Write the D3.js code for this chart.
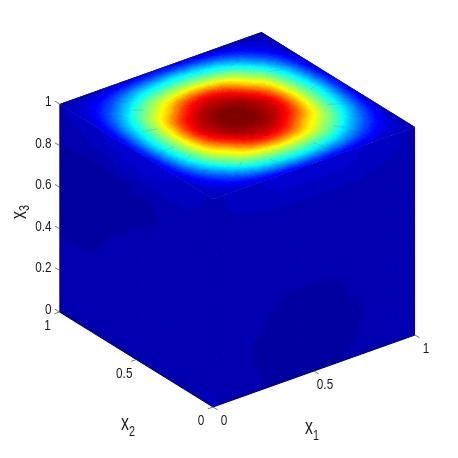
<!DOCTYPE html>
<html>
<head>
<meta charset="utf-8">
<script src="https://cdn.jsdelivr.net/npm/d3@7"></script>
<style>
  html,body{margin:0;padding:0;background:#fff}
  text{font-family:"Liberation Sans",Arial,sans-serif;fill:#1a1a1a}
</style>
</head>
<body>
<div id="chart"></div>
<script>
// Values (colour index 0..1 of the jet map)
const x1Ticks = [0, 0.5, 1]
const x2Ticks = [0, 0.5, 1]
const x3Ticks = [0, 0.2, 0.4, 0.6, 0.8, 1]
const jetStops = [0, 0.125, 0.375, 0.625, 0.875, 1]
const jetColors = ["#000080", "#0000ff", "#00ffff", "#ffff00", "#ff0000", "#800000"]

// top face x3=1, rows x2=0..1, columns x1=0..1, step 0.1
const topValues = [
  [.045,.055,.07,.09,.11,.12,.11,.09,.07,.055,.045],
  [.055,.11,.20,.29,.34,.36,.34,.29,.20,.11,.055],
  [.07,.20,.36,.50,.57,.60,.57,.50,.36,.20,.07],
  [.09,.29,.50,.645,.81,.87,.81,.645,.50,.29,.09],
  [.11,.34,.57,.81,.94,.97,.94,.81,.57,.34,.11],
  [.12,.36,.60,.87,.97,1.0,.97,.87,.60,.36,.12],
  [.11,.34,.57,.81,.94,.97,.94,.81,.57,.34,.11],
  [.09,.29,.50,.645,.81,.87,.81,.645,.50,.29,.09],
  [.07,.20,.36,.50,.57,.60,.57,.50,.36,.20,.07],
  [.055,.11,.20,.29,.34,.36,.34,.29,.20,.11,.055],
  [.045,.055,.07,.09,.11,.12,.11,.09,.07,.055,.045]
]
// face x2=0, rows x3=0..1, columns x1=0..1, step 0.2
const rightValues = [
  [.048,.034,.029,.030,.036,.042],
  [.044,.031,.027,.028,.033,.040],
  [.042,.036,.030,.031,.037,.040],
  [.040,.040,.040,.040,.040,.040],
  [.040,.040,.040,.040,.040,.040],
  [.044,.060,.075,.075,.060,.044]
]
// face x1=0, rows x3=0..1, columns x2=0..1, step 0.2
const leftValues = [
  [.048,.046,.044,.042,.042,.042],
  [.044,.042,.040,.040,.040,.040],
  [.040,.040,.040,.038,.031,.030],
  [.040,.040,.036,.030,.028,.028],
  [.040,.040,.032,.029,.028,.029],
  [.044,.060,.075,.075,.060,.044]
]
// faint mesh streaks on the top face: x1 start, x2 start, x1 end, x2 end
const streaks = [
  [.18,.80,.23,.76],[.12,.62,.18,.60],[.30,.92,.36,.90],[.62,.93,.60,.86],
  [.78,.88,.72,.84],[.88,.70,.82,.72],[.92,.52,.86,.50],[.90,.32,.84,.36],
  [.80,.14,.75,.20],[.62,.07,.60,.14],[.40,.06,.38,.13],[.22,.14,.28,.18],
  [.10,.32,.16,.35],[.08,.44,.14,.44]
]

var width = 458
var height = 458
var originX = 213
var originY = 407

// each data axis moves the screen point by its own scale
const x1X = d3.scaleLinear().domain([0,1]).range([0,202])
const x1Y = d3.scaleLinear().domain([0,1]).range([0,-72])
const x2X = d3.scaleLinear().domain([0,1]).range([0,-153.5])
const x2Y = d3.scaleLinear().domain([0,1]).range([0,-95])
const x3Y = d3.scaleLinear().domain([0,1]).range([0,-208])

const project = (a,b,c)=>[originX+x1X(a)+x2X(b), originY+x1Y(a)+x2Y(b)+x3Y(c)]

const jet = d3.scaleLinear().domain(jetStops).range(jetColors).clamp(true)
// matlab colormap only has 64 levels
const jet64 = v=>jet(Math.ceil(Math.max(v,0)*64)/64)

const svg = d3.select('#chart').append('svg')
  .attr('width',width)
  .attr('height',height)
  .style('display','block')

const defs = svg.append('defs')
defs.append('filter').attr('id','soft')
  .attr('x','-5%').attr('y','-5%').attr('width','110%').attr('height','110%')
  .append('feGaussianBlur').attr('stdDeviation',0.45)

const g = svg.append('g').attr('filter','url(#soft)')

function catmull(p0,p1,p2,p3,t){
  return 0.5*((2*p1)+(-p0+p2)*t+(2*p0-5*p1+4*p2-p3)*t*t+(-p0+3*p1-3*p2+p3)*t*t*t)
}

function sampleRow(row,u){
  const n = row.length-1
  const pos = Math.min(u*n,n-1e-6)
  const i = Math.floor(pos)
  const at = k=>row[Math.max(0,Math.min(n,k))]
  return catmull(at(i-1),at(i),at(i+1),at(i+2),pos-i)
}

function sampleGrid(grid,u,v){
  const col = grid.map(r=>sampleRow(r,u))
  return sampleRow(col,v)
}

var faceCount = 0
// draw one face, toPoint turns (u,v) into a screen point
function drawFace(grid,steps,toPoint){
  const id = 'face'+(faceCount++)
  defs.append('clipPath').attr('id',id)
    .append('polygon')
    .attr('points',[toPoint(0,0),toPoint(1,0),toPoint(1,1),toPoint(0,1)].join(' '))

  const cells = d3.cross(d3.range(steps),d3.range(steps))
  const colorOf = ([i,j])=>jet64(sampleGrid(grid,(i+.5)/steps,(j+.5)/steps))
  g.append('g').attr('clip-path',`url(#${id})`)
    .selectAll('polygon')
    .data(cells)
    .enter()
    .append('polygon')
    .attr('points',([i,j])=>[
      toPoint(i/steps,j/steps),
      toPoint((i+1)/steps,j/steps),
      toPoint((i+1)/steps,(j+1)/steps),
      toPoint(i/steps,(j+1)/steps)
    ].join(' '))
    .attr('fill',colorOf)
    .attr('stroke',colorOf)
    .attr('stroke-width',1.3)
}

drawFace(rightValues,40,(u,v)=>project(u,0,v))
drawFace(leftValues,40,(u,v)=>project(0,u,v))
drawFace(topValues,90,(u,v)=>project(u,v,1))

// Axes
const edge = (a,b,stroke,w)=>g.append('line')
  .attr('x1',a[0]).attr('y1',a[1]).attr('x2',b[0]).attr('y2',b[1])
  .attr('stroke',stroke).attr('stroke-width',w)

streaks.forEach(s=>edge(project(s[0],s[1],1),project(s[2],s[3],1),'rgba(110,140,170,0.35)',1))

edge(project(0,1,0),project(0,1,1),'#555',1)
edge(project(0,0,0),project(0,1,0),'#111',1)
edge(project(0,0,0),project(1,0,0),'#111',1)

x1Ticks.forEach(t=>edge(project(t,0,0),project(t,-0.03,0),'#555',0.8))
x2Ticks.forEach(t=>edge(project(0,t,0),project(-0.025,t,0),'#555',0.8))
x3Ticks.forEach(t=>edge(project(0,1,t),project(0,1.03,t),'#555',0.8))

const tickLabel = (s,x,y,anchor)=>{
  const el = g.append('text')
    .attr('transform',`translate(${x},${y}) scale(0.84,1)`)
    .attr('font-size',14)
    .attr('text-anchor',anchor)
    .attr('dy','0.36em')
    .text(s)
  return el
}

// Tick labels, offset from the tick end
x3Ticks.forEach(t=>{
  const p = project(0,1,t)
  tickLabel(String(t),p[0]-8,p[1]-3,'end')
})
x2Ticks.forEach(t=>{
  const p = project(0,t,0)
  tickLabel(String(t),p[0]-12,p[1]+13,'middle')
})
x1Ticks.forEach(t=>{
  const p = project(t,0,0)
  tickLabel(String(t),p[0]+11,p[1]+13,'middle')
})

// Axis titles
function axisTitle(sub,x,y,rot,drop){
  const t = g.append('text')
    .attr('transform',`translate(${x},${y}) rotate(${rot}) scale(0.72,1)`)
    .attr('font-size',22)
    .text('x')
  t.append('tspan')
    .attr('dy',drop)
    .attr('font-size',15)
    .text(sub)
}
axisTitle('1',305,434,0,6)
axisTitle('2',121,430,0,6)
axisTitle('3',26,219,-90,3)
</script>
</body>
</html>
